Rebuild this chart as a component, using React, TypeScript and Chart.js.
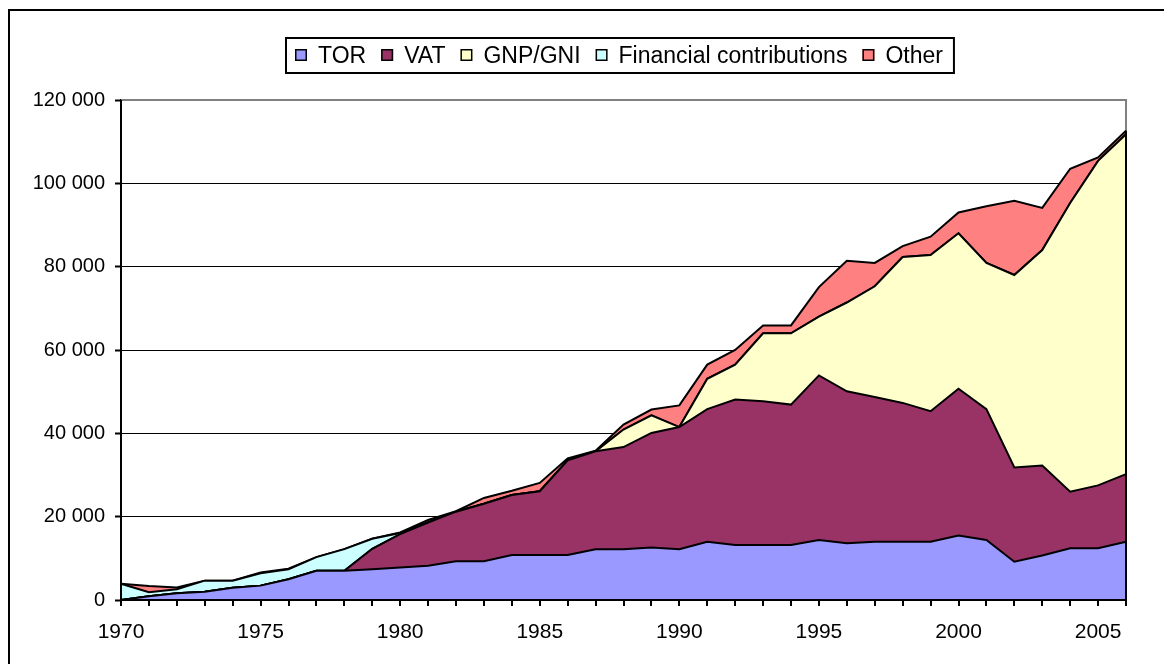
import React, { useEffect, useRef } from "react";
import { Chart, registerables } from "chart.js";

Chart.register(...registerables);

const years = [
  "1970", "1971", "1972", "1973", "1974", "1975", "1976", "1977", "1978", "1979",
  "1980", "1981", "1982", "1983", "1984", "1985", "1986", "1987", "1988", "1989",
  "1990", "1991", "1992", "1993", "1994", "1995", "1996", "1997", "1998", "1999",
  "2000", "2001", "2002", "2003", "2004", "2005", "2006",
];

const tor = [
  0, 900, 1600, 2000, 2950, 3450, 5000, 7000, 7000, 7400,
  7800, 8200, 9300, 9300, 10800, 10800, 10800, 12200, 12200, 12600,
  12200, 14000, 13200, 13200, 13200, 14400, 13600, 14000, 14000, 14000,
  15500, 14400, 9200, 10700, 12400, 12400, 14000,
];

const vat = [
  0, 0, 0, 0, 0, 0, 0, 0, 0, 4900,
  8000, 10400, 11900, 13800, 14400, 15300, 22700, 23500, 24500, 27500,
  29300, 31800, 34900, 34500, 33700, 39500, 36500, 34700, 33300, 31300,
  35200, 31400, 22600, 21600, 13600, 15100, 16200,
];

const gnp = [
  0, 0, 0, 0, 0, 0, 0, 0, 0, 0,
  0, 0, 0, 0, 0, 0, 0, 0, 4200, 4200,
  0, 7300, 8400, 16300, 17100, 14100, 21300, 26600, 35000, 37500,
  37300, 35100, 46200, 51700, 69300, 77900, 81600,
];

const financial = [
  3900, 950, 1000, 2650, 1700, 2950, 2400, 3300, 5200, 2400,
  300, 0, 0, 0, 0, 0, 0, 0, 0, 0,
  0, 0, 0, 0, 0, 0, 0, 0, 0, 0,
  0, 0, 0, 0, 0, 0, 0,
];

const other = [
  0, 1500, 400, 0, 0, 200, 100, 0, 0, 0,
  100, 600, 100, 1400, 1000, 2000, 500, 100, 1200, 1400,
  5200, 3400, 3500, 1900, 1900, 7100, 10000, 5600, 2650, 4400,
  5000, 13600, 17800, 10100, 8200, 800, 800,
];

const seriesLabels = ["TOR", "VAT", "GNP/GNI", "Financial contributions", "Other"];
const seriesColors = ["#9999FF", "#993366", "#FFFFCC", "#CCFFFF", "#FF8080"];

const yTickStep = 20000;
const yMax = 120000;

const FONT = '"Liberation Sans", Arial, Helvetica, sans-serif';

const formatThousands = (v: number) =>
  String(v).replace(/\B(?=(\d{3})+(?!\d))/g, " ");

const framePlugin = {
  id: "excelFrame",
  beforeDatasetsDraw(chart: any) {
    const { ctx, chartArea } = chart;
    ctx.save();
    ctx.strokeStyle = "#808080";
    ctx.lineWidth = 2;
    ctx.beginPath();
    ctx.moveTo(chartArea.left, chartArea.top);
    ctx.lineTo(chartArea.right, chartArea.top);
    ctx.lineTo(chartArea.right, chartArea.bottom);
    ctx.stroke();
    ctx.restore();
  },
  afterDatasetsDraw(chart: any) {
    const { ctx, chartArea } = chart;
    ctx.save();
    ctx.strokeStyle = "#000";
    ctx.lineWidth = 2;
    const lastMeta = chart.getDatasetMeta(chart.data.datasets.length - 1);
    const pts = lastMeta.data;
    if (pts && pts.length) {
      const p = pts[pts.length - 1];
      ctx.beginPath();
      ctx.moveTo(p.x, p.y);
      ctx.lineTo(p.x, chartArea.bottom);
      ctx.stroke();
    }
    ctx.beginPath();
    ctx.moveTo(chartArea.left, chartArea.top);
    ctx.lineTo(chartArea.left, chartArea.bottom);
    ctx.lineTo(chartArea.right, chartArea.bottom);
    ctx.stroke();
    ctx.restore();
  },
};

const legendPlugin = {
  id: "boxedLegend",
  afterDraw(chart: any) {
    const { ctx, chartArea } = chart;
    const ds = chart.data.datasets;
    ctx.save();
    ctx.font = `23px ${FONT}`;
    const box = 12;
    const gap = 11;
    const itemGap = 15;
    const padL = 9;
    const padR = 11;
    const widths = ds.map((d: any) => ctx.measureText(d.label).width);
    const content =
      widths.reduce((a: number, w: number) => a + box + gap + w, 0) +
      itemGap * (ds.length - 1);
    const boxW = content + padL + padR;
    const cx = (chartArea.left + chartArea.right) / 2 - 4;
    const top = 27;
    const h = 35;
    const left = Math.round(cx - boxW / 2);
    ctx.fillStyle = "#fff";
    ctx.fillRect(left, top, boxW, h);
    ctx.strokeStyle = "#000";
    ctx.lineWidth = 2;
    ctx.strokeRect(left, top, boxW, h);
    let x = left + padL;
    const cy = top + h / 2;
    ds.forEach((d: any, i: number) => {
      const by = Math.round(cy - 7);
      ctx.fillStyle = d.backgroundColor;
      ctx.fillRect(x, by, box, box);
      ctx.lineWidth = 1.5;
      ctx.strokeStyle = "#000";
      ctx.strokeRect(x + 0.75, by + 0.75, box - 1.5, box - 1.5);
      ctx.fillStyle = "#000";
      ctx.textBaseline = "middle";
      ctx.textAlign = "left";
      ctx.fillText(d.label, x + box + gap, cy + 1);
      x += box + gap + widths[i] + itemGap;
    });
    ctx.restore();
  },
};

export default function App() {
  const canvasRef = useRef<HTMLCanvasElement | null>(null);

  useEffect(() => {
    if (!canvasRef.current) return;
    Chart.defaults.font.family = FONT;
    const seriesData = [tor, vat, gnp, financial, other];
    const chart = new Chart(canvasRef.current, {
      type: "line",
      data: {
        labels: years,
        datasets: seriesData.map((data, i) => ({
          label: seriesLabels[i],
          data,
          backgroundColor: seriesColors[i],
          borderColor: "#000",
          borderWidth: 2,
          fill: i === 0 ? "origin" : "-1",
          pointRadius: 0,
          pointHoverRadius: 0,
          tension: 0,
        })),
      },
      options: {
        animation: false,
        responsive: true,
        maintainAspectRatio: false,
        layout: { padding: { left: 0, right: 42, top: 89, bottom: 15 } },
        plugins: {
          legend: { display: false },
          tooltip: { enabled: false },
        },
        scales: {
          x: {
            type: "category",
            offset: false,
            grid: {
              drawOnChartArea: false,
              drawTicks: true,
              tickLength: 6,
              color: "#000",
              lineWidth: 2,
            },
            border: { display: true, color: "#000", width: 2 },
            ticks: {
              autoSkip: false,
              maxRotation: 0,
              minRotation: 0,
              padding: 14,
              color: "#000",
              font: { size: 21, family: FONT },
              callback: (_v: any, i: number) =>
                Number(years[i]) % 5 === 0 ? years[i] : "",
            },
            afterFit: (scale: any) => {
              scale.height = 50;
            },
          },
          y: {
            stacked: true,
            min: 0,
            max: yMax,
            grid: {
              color: "#000",
              lineWidth: 1,
              tickLength: 6,
              tickWidth: 2,
            },
            border: { display: true, color: "#000", width: 2 },
            ticks: {
              stepSize: yTickStep,
              padding: 10,
              color: "#000",
              font: { size: 20, family: FONT },
              callback: (v: any) => formatThousands(Number(v)),
            },
            afterFit: (scale: any) => {
              scale.width = 111;
            },
          },
        },
      },
      plugins: [framePlugin, legendPlugin],
    });
    return () => chart.destroy();
  }, []);

  return (
    <div
      style={{
        position: "relative",
        top: 1,
        width: 1160,
        height: 656,
        borderLeft: "2px solid #000",
        borderTop: "2px solid #000",
        boxSizing: "border-box",
        background: "#fff",
      }}
    >
      <div style={{ position: "absolute", left: 0, top: 0, width: 1158, height: 654 }}>
        <canvas ref={canvasRef} />
      </div>
    </div>
  );
}
